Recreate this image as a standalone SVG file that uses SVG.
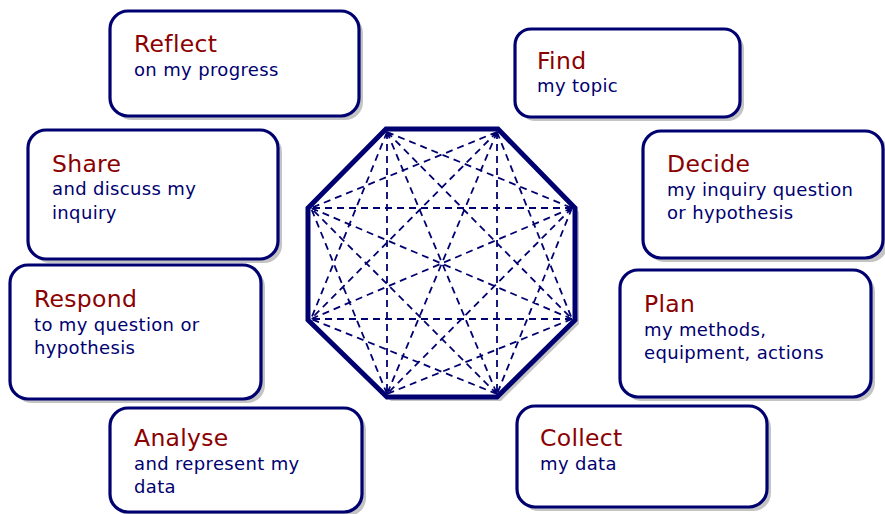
<svg xmlns="http://www.w3.org/2000/svg" width="885" height="514" viewBox="0 0 885 514">
<defs>
<style>
.shadow{fill:#c4c4c4}
.box{fill:#ffffff;stroke:#000070;stroke-width:3.2}
.title{font-family:"DejaVu Sans",Verdana,sans-serif;font-size:23.5px;letter-spacing:0.3px;fill:#8b0000}
.sub{font-family:"DejaVu Sans",Verdana,sans-serif;font-size:18px;letter-spacing:0.35px;fill:#000070}
.oct{fill:#ffffff;stroke:#000070;stroke-width:5;stroke-linejoin:miter}
.dash{stroke:#000070;stroke-width:1.8;stroke-dasharray:7 5;fill:none}
</style>
</defs>
<rect width="885" height="514" fill="#ffffff"/>

<g id="octagon">
<polygon class="shadow" points="390,133 502,133 579,212 579,324 501,401 391,401 312,324 312,212"/>
<polygon class="oct" points="386,129 498,129 575,208 575,320 497,397 387,397 308,320 308,208"/>
</g>

<g id="connectors">
<path class="dash" d="M387,132 L572,208 M387,132 L572,319 M387,132 L497,394 M387,132 L387,394 M387,132 L311,319
M497,132 L572,319 M497,132 L497,394 M497,132 L387,394 M497,132 L311,319 M497,132 L311,208
M572,208 L497,394 M572,208 L387,394 M572,208 L311,319 M572,208 L311,208
M572,319 L387,394 M572,319 L311,319 M572,319 L311,208
M497,394 L311,319 M497,394 L311,208
M387,394 L311,208"/>
</g>

<g id="reflect">
<rect class="shadow" x="114" y="15" width="249" height="105" rx="18"/>
<rect class="box" x="110" y="11" width="249" height="105" rx="18"/>
<text class="title" x="134" y="52">Reflect</text>
<text class="sub" x="134" y="76">on my progress</text>
</g>

<g id="find">
<rect class="shadow" x="519" y="33" width="225" height="88" rx="16"/>
<rect class="box" x="515" y="29" width="225" height="88" rx="16"/>
<text class="title" x="537" y="69">Find</text>
<text class="sub" x="537" y="92">my topic</text>
</g>

<g id="share">
<rect class="shadow" x="32" y="134" width="250" height="129" rx="18"/>
<rect class="box" x="28" y="130" width="250" height="129" rx="18"/>
<text class="title" x="52" y="172">Share</text>
<text class="sub" x="52" y="195">and discuss my</text>
<text class="sub" x="52" y="219">inquiry</text>
</g>

<g id="decide">
<rect class="shadow" x="647" y="135" width="241" height="127" rx="18"/>
<rect class="box" x="643" y="131" width="240" height="127" rx="18"/>
<text class="title" x="667" y="172">Decide</text>
<text class="sub" x="667" y="196">my inquiry question</text>
<text class="sub" x="667" y="219">or hypothesis</text>
</g>

<g id="respond">
<rect class="shadow" x="14" y="269" width="251" height="134" rx="18"/>
<rect class="box" x="10" y="265" width="251" height="134" rx="18"/>
<text class="title" x="34" y="307">Respond</text>
<text class="sub" x="34" y="331">to my question or</text>
<text class="sub" x="34" y="354">hypothesis</text>
</g>

<g id="plan">
<rect class="shadow" x="624" y="274" width="251" height="127" rx="18"/>
<rect class="box" x="620" y="270" width="251" height="127" rx="18"/>
<text class="title" x="644" y="312">Plan</text>
<text class="sub" x="644" y="336">my methods,</text>
<text class="sub" x="644" y="359">equipment, actions</text>
</g>

<g id="analyse">
<rect class="shadow" x="114" y="412" width="252" height="104" rx="18"/>
<rect class="box" x="110" y="408" width="252" height="104" rx="18"/>
<text class="title" x="134" y="446">Analyse</text>
<text class="sub" x="134" y="470">and represent my</text>
<text class="sub" x="134" y="493">data</text>
</g>

<g id="collect">
<rect class="shadow" x="521" y="410" width="250" height="101" rx="18"/>
<rect class="box" x="517" y="406" width="250" height="101" rx="18"/>
<text class="title" x="540" y="446">Collect</text>
<text class="sub" x="540" y="470">my data</text>
</g>
</svg>
